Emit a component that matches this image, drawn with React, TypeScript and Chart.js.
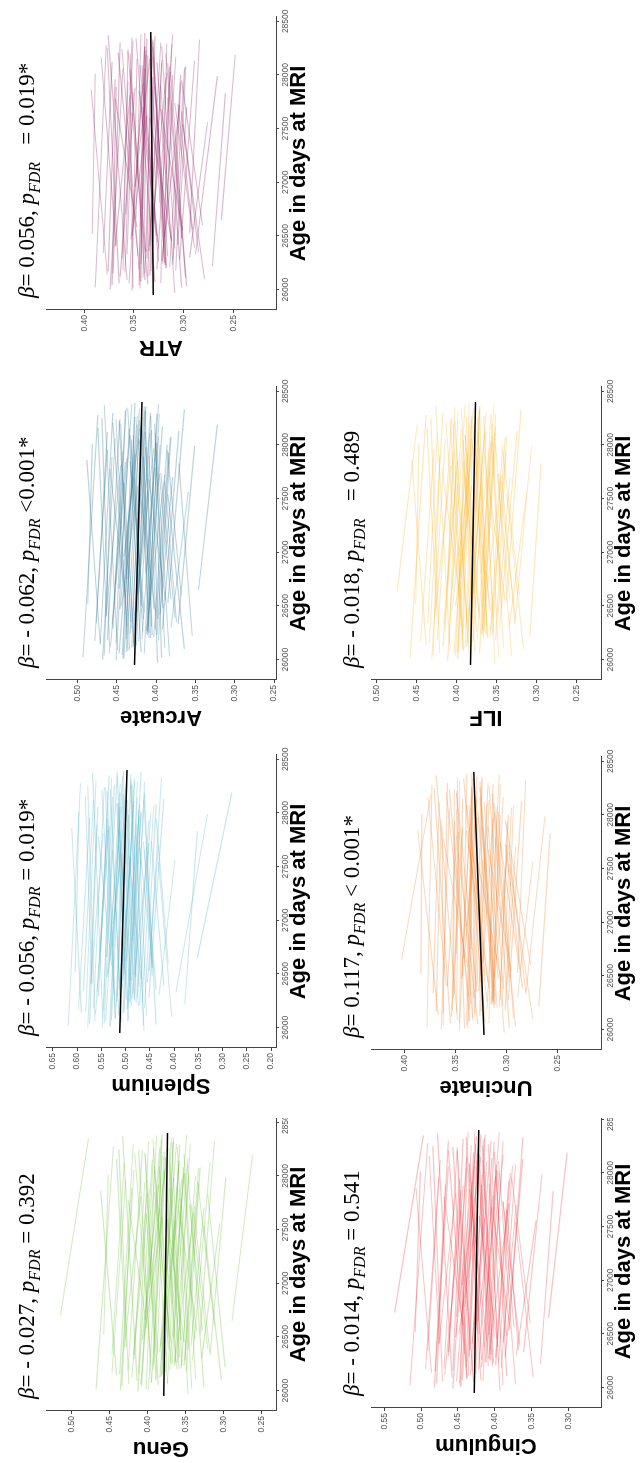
import React, { useEffect, useRef } from 'react';
import { Chart, registerables } from 'chart.js';

Chart.register(...registerables);

// ---------- data ----------
const xTicks = [26000, 26500, 27000, 27500, 28000, 28500];
const regAge = [25950, 28400];

const ageStart = [26010, 26230, 26120, 26480, 26050, 26340, 26190, 26600, 26080, 26270,
  26410, 25970, 26150, 26520, 26300, 26060, 26380, 26220, 26700, 26110,
  26450, 26000, 26260, 26580, 26170, 26330, 26090, 26420, 26240, 26810,
  26140, 26360, 26030, 26500, 26200, 26290, 26650, 26070, 26400, 26180,
  26310, 26550, 26020, 26250, 26470, 26130, 26390, 26960, 26210, 26060,
  26440, 26280, 26160, 26620, 26100, 26350, 26230, 26040, 26490, 26190,
  26120, 26380, 25990, 26260, 26530, 26070, 26310, 26180, 26440, 26020,
  26660, 26230, 26090, 26350, 26150, 26500, 26280, 26040, 26410, 26200,
  26750, 26110, 26330, 26060, 26470, 26170, 26290, 26560, 26010, 26240];
const ageEnd = [28050, 28310, 27880, 28200, 27650, 28120, 28380, 27950, 28240, 27720,
  28160, 27900, 28330, 28010, 27560, 28270, 28090, 27830, 28350, 28180,
  27600, 28060, 28290, 27780, 28140, 27990, 28370, 27700, 28230, 28020,
  27860, 28300, 28110, 27620, 28260, 27940, 28190, 28340, 27810, 28080,
  28210, 27680, 28280, 28040, 27920, 28360, 27740, 28150, 28000, 28250,
  27850, 28130, 28320, 27970, 27540, 28220, 28070, 27890, 28170, 28390,
  27980, 28270, 28150, 27700, 28330, 28060, 27890, 28240, 28110, 27790,
  28380, 28000, 28200, 27660, 28300, 28090, 27930, 28260, 27580, 28170,
  28340, 28030, 27840, 28290, 28120, 27960, 28360, 27730, 28190, 28080];

const genuStart = [0.402,0.355,0.421,0.338,0.386,0.447,0.371,0.312,0.395,0.364,
  0.428,0.347,0.381,0.458,0.329,0.409,0.372,0.298,0.515,0.389,
  0.352,0.436,0.361,0.401,0.377,0.318,0.414,0.343,0.392,0.367,
  0.441,0.384,0.326,0.405,0.359,0.418,0.289,0.374,0.431,0.349,
  0.396,0.335,0.468,0.363,0.407,0.382,0.321,0.398,0.356,0.425,
  0.369,0.341,0.412,0.378,0.303,0.387,0.352,0.434,0.366,0.393,
  0.384,0.347,0.413,0.369,0.331,0.395,0.358,0.426,0.377,0.342,
  0.403,0.365,0.389,0.318,0.437,0.372,0.351,0.408,0.383,0.362,
  0.396,0.337,0.419,0.374,0.356,0.447,0.381,0.328,0.399,0.368];
const genuEnd = [0.391,0.368,0.398,0.352,0.402,0.431,0.349,0.334,0.412,0.338,
  0.441,0.361,0.366,0.452,0.305,0.384,0.391,0.321,0.478,0.377,
  0.374,0.418,0.344,0.426,0.359,0.297,0.433,0.326,0.378,0.352,
  0.462,0.362,0.348,0.381,0.372,0.404,0.262,0.393,0.409,0.331,
  0.417,0.359,0.445,0.378,0.386,0.369,0.343,0.375,0.337,0.438,
  0.391,0.318,0.399,0.355,0.326,0.404,0.333,0.421,0.347,0.381,
  0.366,0.361,0.394,0.384,0.312,0.378,0.371,0.407,0.359,0.356,
  0.388,0.346,0.403,0.339,0.419,0.385,0.333,0.392,0.364,0.377,
  0.382,0.352,0.401,0.358,0.371,0.429,0.366,0.345,0.381,0.353];

const spleniumStart = [0.531,0.478,0.562,0.445,0.508,0.587,0.495,0.412,0.521,0.487,
  0.569,0.462,0.503,0.604,0.431,0.541,0.492,0.378,0.552,0.513,
  0.468,0.578,0.482,0.529,0.497,0.396,0.547,0.455,0.518,0.486,
  0.591,0.507,0.437,0.536,0.474,0.556,0.352,0.494,0.572,0.461,
  0.524,0.443,0.618,0.481,0.538,0.505,0.421,0.526,0.471,0.563,
  0.489,0.452,0.545,0.499,0.405,0.512,0.466,0.574,0.483,0.519,
  0.515,0.472,0.548,0.498,0.451,0.529,0.484,0.566,0.506,0.463,
  0.539,0.491,0.521,0.437,0.582,0.502,0.476,0.544,0.511,0.488,
  0.527,0.457,0.559,0.496,0.479,0.597,0.517,0.445,0.533,0.493];
const spleniumEnd = [0.512,0.489,0.534,0.461,0.527,0.566,0.468,0.437,0.542,0.452,
  0.583,0.478,0.482,0.596,0.398,0.511,0.516,0.352,0.534,0.498,
  0.493,0.557,0.461,0.556,0.476,0.331,0.568,0.432,0.501,0.468,
  0.611,0.481,0.462,0.509,0.489,0.538,0.281,0.517,0.546,0.437,
  0.549,0.471,0.593,0.497,0.512,0.489,0.447,0.498,0.448,0.578,
  0.514,0.421,0.529,0.472,0.432,0.531,0.442,0.559,0.461,0.504,
  0.494,0.487,0.527,0.514,0.426,0.508,0.499,0.544,0.483,0.479,
  0.517,0.468,0.538,0.461,0.561,0.518,0.452,0.523,0.489,0.505,
  0.506,0.474,0.537,0.476,0.496,0.574,0.498,0.463,0.511,0.471];

const arcuateStart = [0.442,0.405,0.458,0.391,0.427,0.476,0.418,0.368,0.436,0.412,
  0.463,0.398,0.429,0.487,0.381,0.447,0.416,0.354,0.452,0.431,
  0.401,0.468,0.411,0.439,0.422,0.372,0.449,0.395,0.433,0.413,
  0.471,0.426,0.383,0.444,0.407,0.455,0.346,0.419,0.464,0.397,
  0.437,0.388,0.493,0.409,0.446,0.425,0.376,0.441,0.403,0.459,
  0.415,0.392,0.451,0.423,0.364,0.432,0.399,0.466,0.408,0.438,
  0.429,0.398,0.451,0.417,0.385,0.438,0.406,0.462,0.424,0.393,
  0.447,0.411,0.434,0.374,0.471,0.419,0.401,0.443,0.427,0.409,
  0.436,0.389,0.456,0.415,0.403,0.478,0.431,0.381,0.441,0.412];
const arcuateEnd = [0.431,0.414,0.437,0.402,0.441,0.462,0.397,0.386,0.451,0.389,
  0.474,0.409,0.414,0.481,0.359,0.424,0.433,0.371,0.438,0.419,
  0.421,0.452,0.396,0.459,0.406,0.351,0.466,0.379,0.421,0.399,
  0.488,0.407,0.401,0.423,0.418,0.443,0.322,0.436,0.445,0.381,
  0.455,0.409,0.474,0.421,0.427,0.413,0.394,0.421,0.386,0.469,
  0.433,0.371,0.439,0.403,0.385,0.447,0.382,0.456,0.392,0.427,
  0.413,0.407,0.434,0.428,0.364,0.422,0.416,0.446,0.408,0.401,
  0.431,0.395,0.445,0.389,0.455,0.429,0.384,0.427,0.411,0.419,
  0.421,0.401,0.439,0.399,0.414,0.462,0.415,0.396,0.424,0.397];

const atrStart = [0.351,0.318,0.364,0.302,0.336,0.381,0.327,0.281,0.344,0.322,
  0.368,0.309,0.339,0.392,0.294,0.355,0.325,0.271,0.358,0.341,
  0.312,0.374,0.321,0.347,0.333,0.288,0.357,0.306,0.343,0.324,
  0.377,0.335,0.297,0.352,0.317,0.362,0.262,0.329,0.369,0.308,
  0.346,0.301,0.389,0.319,0.353,0.334,0.289,0.349,0.314,0.365,
  0.326,0.304,0.359,0.331,0.279,0.338,0.311,0.372,0.319,0.345,
  0.336,0.309,0.352,0.325,0.294,0.343,0.316,0.361,0.331,0.302,
  0.348,0.319,0.339,0.285,0.371,0.327,0.311,0.345,0.334,0.318,
  0.341,0.298,0.357,0.323,0.313,0.376,0.337,0.291,0.344,0.321];
const atrEnd = [0.354,0.331,0.349,0.318,0.352,0.372,0.311,0.302,0.362,0.304,
  0.383,0.323,0.331,0.389,0.276,0.339,0.344,0.258,0.352,0.336,
  0.334,0.361,0.312,0.369,0.322,0.266,0.376,0.297,0.338,0.317,
  0.393,0.323,0.316,0.337,0.331,0.356,0.248,0.348,0.354,0.298,
  0.366,0.323,0.378,0.333,0.341,0.329,0.309,0.334,0.303,0.377,
  0.345,0.289,0.351,0.318,0.301,0.356,0.299,0.368,0.308,0.339,
  0.331,0.322,0.347,0.341,0.284,0.339,0.329,0.356,0.322,0.316,
  0.343,0.311,0.354,0.302,0.364,0.342,0.303,0.339,0.327,0.331,
  0.337,0.313,0.351,0.317,0.327,0.369,0.333,0.306,0.338,0.314];

const cingulumStart = [0.447,0.402,0.468,0.384,0.429,0.491,0.418,0.352,0.438,0.409,
  0.475,0.393,0.431,0.508,0.371,0.452,0.414,0.338,0.536,0.436,
  0.397,0.482,0.407,0.443,0.422,0.361,0.458,0.389,0.437,0.412,
  0.486,0.428,0.372,0.449,0.403,0.463,0.327,0.419,0.476,0.391,
  0.441,0.379,0.515,0.406,0.453,0.426,0.366,0.444,0.399,0.471,
  0.411,0.386,0.457,0.423,0.348,0.433,0.395,0.479,0.408,0.439,
  0.433,0.396,0.457,0.418,0.381,0.444,0.405,0.469,0.427,0.389,
  0.452,0.412,0.438,0.368,0.481,0.421,0.399,0.448,0.431,0.409,
  0.441,0.384,0.463,0.416,0.401,0.494,0.435,0.374,0.446,0.413];
const cingulumEnd = [0.438,0.416,0.443,0.401,0.447,0.474,0.394,0.377,0.457,0.381,
  0.489,0.408,0.414,0.501,0.344,0.426,0.435,0.321,0.497,0.424,
  0.421,0.463,0.389,0.469,0.404,0.336,0.478,0.371,0.423,0.396,
  0.507,0.405,0.395,0.424,0.417,0.448,0.302,0.439,0.453,0.372,
  0.463,0.404,0.491,0.422,0.431,0.413,0.389,0.419,0.379,0.484,
  0.434,0.362,0.443,0.399,0.372,0.451,0.376,0.467,0.389,0.427,
  0.417,0.409,0.438,0.431,0.362,0.427,0.418,0.451,0.411,0.402,
  0.436,0.394,0.451,0.384,0.463,0.434,0.381,0.432,0.414,0.421,
  0.425,0.398,0.447,0.401,0.416,0.476,0.419,0.389,0.429,0.398];

const uncinateStart = [0.341,0.311,0.354,0.297,0.328,0.372,0.319,0.276,0.336,0.314,
  0.359,0.302,0.331,0.384,0.289,0.346,0.317,0.268,0.349,0.333,
  0.305,0.364,0.313,0.338,0.325,0.281,0.348,0.299,0.335,0.316,
  0.367,0.327,0.291,0.343,0.309,0.352,0.403,0.321,0.358,0.301,
  0.337,0.295,0.378,0.312,0.344,0.326,0.284,0.339,0.307,0.355,
  0.318,0.298,0.349,0.323,0.274,0.329,0.304,0.362,0.312,0.336,
  0.331,0.303,0.346,0.319,0.289,0.337,0.311,0.353,0.326,0.297,
  0.342,0.314,0.333,0.281,0.362,0.321,0.306,0.339,0.329,0.312,
  0.335,0.293,0.351,0.317,0.308,0.369,0.332,0.286,0.338,0.315];
const uncinateEnd = [0.349,0.326,0.343,0.314,0.347,0.366,0.307,0.301,0.356,0.298,
  0.377,0.318,0.324,0.383,0.274,0.334,0.339,0.257,0.348,0.331,
  0.329,0.356,0.306,0.362,0.317,0.262,0.369,0.291,0.333,0.312,
  0.387,0.318,0.312,0.332,0.326,0.351,0.374,0.342,0.349,0.293,
  0.359,0.318,0.373,0.328,0.336,0.324,0.306,0.329,0.298,0.371,
  0.339,0.285,0.346,0.313,0.297,0.349,0.295,0.363,0.303,0.334,
  0.328,0.317,0.343,0.336,0.281,0.334,0.324,0.351,0.319,0.311,
  0.339,0.306,0.349,0.297,0.358,0.337,0.299,0.334,0.323,0.326,
  0.333,0.308,0.347,0.313,0.322,0.364,0.329,0.301,0.334,0.309];

const ilfStart = [0.398,0.362,0.417,0.343,0.384,0.436,0.374,0.321,0.391,0.368,
  0.424,0.352,0.386,0.451,0.334,0.403,0.371,0.308,0.411,0.389,
  0.357,0.431,0.366,0.396,0.379,0.327,0.408,0.348,0.392,0.369,
  0.438,0.382,0.331,0.401,0.361,0.414,0.474,0.377,0.427,0.351,
  0.394,0.339,0.458,0.364,0.405,0.381,0.326,0.397,0.358,0.421,
  0.372,0.346,0.409,0.378,0.316,0.387,0.355,0.429,0.367,0.393,
  0.387,0.354,0.411,0.375,0.338,0.398,0.362,0.424,0.381,0.347,
  0.405,0.368,0.392,0.327,0.434,0.376,0.357,0.401,0.385,0.366,
  0.394,0.341,0.416,0.371,0.359,0.445,0.388,0.333,0.399,0.369];
const ilfEnd = [0.391,0.371,0.398,0.356,0.399,0.424,0.353,0.342,0.408,0.344,
  0.437,0.364,0.371,0.447,0.312,0.381,0.389,0.294,0.402,0.379,
  0.378,0.414,0.351,0.418,0.363,0.306,0.426,0.333,0.381,0.357,
  0.456,0.363,0.352,0.381,0.374,0.403,0.449,0.394,0.407,0.337,
  0.413,0.361,0.438,0.377,0.386,0.371,0.347,0.377,0.342,0.432,
  0.392,0.324,0.398,0.359,0.337,0.402,0.339,0.421,0.351,0.384,
  0.371,0.366,0.394,0.388,0.319,0.381,0.374,0.406,0.365,0.359,
  0.389,0.351,0.404,0.343,0.417,0.389,0.338,0.387,0.369,0.377,
  0.379,0.356,0.399,0.357,0.373,0.428,0.371,0.349,0.384,0.355];

const genuReg = [0.379, 0.374];
const spleniumReg = [0.512, 0.497];
const arcuateReg = [0.4275, 0.418];
const atrReg = [0.3305, 0.333];
const cingulumReg = [0.428, 0.422];
const uncinateReg = [0.322, 0.332];
const ilfReg = [0.3825, 0.376];

const tractNames = ['Genu', 'Splenium', 'Arcuate', 'ATR', 'Cingulum', 'Uncinate', 'ILF'];
const betaTexts = ['= - 0.027, ', '= - 0.056, ', '= - 0.062, ', '= 0.056, ', '= - 0.014, ', '= 0.117, ', '= - 0.018, '];
const pTexts = [' = 0.392', ' = 0.019*', ' <0.001*', '   = 0.019*', ' = 0.541', ' < 0.001*', '   = 0.489'];

const genuYTicks = [0.25, 0.30, 0.35, 0.40, 0.45, 0.50];
const spleniumYTicks = [0.20, 0.25, 0.30, 0.35, 0.40, 0.45, 0.50, 0.55, 0.60, 0.65];
const arcuateYTicks = [0.25, 0.30, 0.35, 0.40, 0.45, 0.50];
const atrYTicks = [0.25, 0.30, 0.35, 0.40];
const cingulumYTicks = [0.30, 0.35, 0.40, 0.45, 0.50, 0.55];
const uncinateYTicks = [0.25, 0.30, 0.35, 0.40];
const ilfYTicks = [0.25, 0.30, 0.35, 0.40, 0.45, 0.50];

const genuYRange = [0.231, 0.534];
const spleniumYRange = [0.19, 0.664];
const arcuateYRange = [0.2475, 0.540];
const atrYRange = [0.207, 0.4386];
const cingulumYRange = [0.256, 0.568];
const uncinateYRange = [0.207, 0.433];
const ilfYRange = [0.219, 0.507];

const xRange = [25810, 28540];

// ---------- styling / layout (not data) ----------
const tractColors = ['100,190,45', '80,175,198', '40,112,142', '140,28,92', '236,56,64', '240,128,42', '253,180,36'];
const lineAlpha = 0.3;

const tracts = [
  { start: genuStart, end: genuEnd, reg: genuReg, ticks: genuYTicks, range: genuYRange },
  { start: spleniumStart, end: spleniumEnd, reg: spleniumReg, ticks: spleniumYTicks, range: spleniumYRange },
  { start: arcuateStart, end: arcuateEnd, reg: arcuateReg, ticks: arcuateYTicks, range: arcuateYRange },
  { start: atrStart, end: atrEnd, reg: atrReg, ticks: atrYTicks, range: atrYRange },
  { start: cingulumStart, end: cingulumEnd, reg: cingulumReg, ticks: cingulumYTicks, range: cingulumYRange },
  { start: uncinateStart, end: uncinateEnd, reg: uncinateReg, ticks: uncinateYTicks, range: uncinateYRange },
  { start: ilfStart, end: ilfEnd, reg: ilfReg, ticks: ilfYTicks, range: ilfYRange },
];

const placements = [
  { wrapLeft: 0, wrapWidth: 345, left: 2, top: 0 },
  { wrapLeft: 345, wrapWidth: 1118, left: 365, top: 0 },
  { wrapLeft: 345, wrapWidth: 1118, left: 733, top: 0 },
  { wrapLeft: 345, wrapWidth: 1118, left: 1103, top: 0 },
  { wrapLeft: 0, wrapWidth: 345, left: 5, top: 325 },
  { wrapLeft: 345, wrapWidth: 1118, left: 363, top: 325 },
  { wrapLeft: 345, wrapWidth: 1118, left: 733, top: 325 },
];

const CW = 370;
const CH = 320;

const titlePlugin = {
  id: 'betaTitle',
  afterDraw(chart: any, _args: any, opts: any) {
    const ctx = chart.ctx;
    ctx.save();
    let x = chart.chartArea.left + 12;
    const y = 34;
    ctx.fillStyle = '#000';
    ctx.textAlign = 'left';
    ctx.textBaseline = 'alphabetic';
    const parts: [string, string, number][] = [
      ['italic 23px "Liberation Serif"', 'β', 0],
      ['23px "Liberation Serif"', opts.beta, 0],
      ['italic 23px "Liberation Serif"', 'p', 0],
      ['italic 16px "Liberation Serif"', 'FDR', 6],
      ['23px "Liberation Serif"', opts.p, 0],
    ];
    for (const [f, s, dy] of parts) {
      ctx.font = f;
      ctx.fillText(s, x, y + dy);
      x += ctx.measureText(s).width;
    }
    ctx.restore();
  },
};

function Panel({ idx }: { idx: number }) {
  const ref = useRef<HTMLCanvasElement | null>(null);
  const pl = placements[idx];
  useEffect(() => {
    const t = tracts[idx];
    const color = tractColors[idx];
    const datasets: any[] = [
      {
        data: regAge.map((a, i) => ({ x: a, y: t.reg[i] })),
        borderColor: '#000',
        borderWidth: 1.5,
        pointRadius: 0,
      },
    ];
    for (let i = 0; i < ageStart.length; i++) {
      datasets.push({
        data: [
          { x: ageStart[i], y: t.start[i] },
          { x: ageEnd[i], y: t.end[i] },
        ],
        borderColor: `rgba(${color},${lineAlpha})`,
        borderWidth: 1.1,
        pointRadius: 0,
      });
    }
    const tickFont = { family: '"Liberation Sans", Arial, sans-serif', size: 8.5 };
    const titleFont = { family: '"Liberation Sans", Arial, sans-serif', size: 22, weight: 'bold' as const, lineHeight: 1.2 };
    const chart = new Chart(ref.current as HTMLCanvasElement, {
      type: 'line',
      data: { datasets },
      plugins: [titlePlugin as any],
      options: {
        responsive: false,
        animation: false,
        devicePixelRatio: 1,
        layout: { padding: { top: 46, left: 0, right: CW - 343, bottom: 0 } },
        elements: { line: { tension: 0 } },
        plugins: {
          legend: { display: false },
          tooltip: { enabled: false },
          title: { display: false },
          betaTitle: { beta: betaTexts[idx], p: pTexts[idx] },
        } as any,
        scales: {
          x: {
            type: 'linear',
            min: xRange[0],
            max: xRange[1],
            afterBuildTicks: (s: any) => { s.ticks = xTicks.map((v) => ({ value: v })); },
            afterFit: (s: any) => { s.height = 44; s.paddingLeft = 0; s.paddingRight = 0; },
            ticks: {
              autoSkip: false,
              maxRotation: 0,
              minRotation: 0,
              padding: 2,
              font: tickFont,
              color: '#555',
              callback: (v: any) => String(v),
            },
            grid: { drawOnChartArea: false, drawTicks: true, tickLength: 3, color: '#444' },
            border: { display: true, color: '#444', width: 1 },
            title: {
              display: true,
              text: 'Age in days at MRI',
              font: titleFont,
              color: '#000',
              padding: { top: 0, bottom: 8 },
            },
          },
          y: {
            type: 'linear',
            min: t.range[0],
            max: t.range[1],
            afterBuildTicks: (s: any) => { s.ticks = t.ticks.map((v) => ({ value: v })); },
            afterFit: (s: any) => { s.width = 50; s.paddingTop = 0; s.paddingBottom = 0; },
            ticks: {
              padding: 2,
              font: tickFont,
              color: '#555',
              callback: (v: any) => Number(v).toFixed(2),
            },
            grid: { drawOnChartArea: false, drawTicks: true, tickLength: 3, color: '#444' },
            border: { display: true, color: '#444', width: 1 },
            title: {
              display: true,
              text: tractNames[idx],
              font: titleFont,
              color: '#000',
              padding: { top: 0, bottom: 0 },
            },
          },
        },
      } as any,
    });
    return () => chart.destroy();
  }, [idx]);
  return (
    <div
      style={{
        position: 'absolute',
        left: pl.wrapLeft,
        top: pl.top,
        width: pl.wrapWidth,
        height: CH,
        overflow: 'hidden',
      }}
    >
      <canvas
        ref={ref}
        width={CW}
        height={CH}
        style={{ position: 'absolute', left: pl.left - pl.wrapLeft, top: 0, width: CW, height: CH }}
      />
    </div>
  );
}

export default function App() {
  useEffect(() => {
    document.body.style.margin = '0';
    document.body.style.overflow = 'hidden';
  }, []);
  return (
    <div
      style={{
        position: 'absolute',
        left: 0,
        top: 0,
        width: 1463,
        height: 640,
        overflow: 'hidden',
        background: '#fff',
        transformOrigin: '0 0',
        transform: 'translate(0px, 1463px) rotate(-90deg)',
      }}
    >
      {tracts.map((_, i) => (
        <Panel key={i} idx={i} />
      ))}
    </div>
  );
}
